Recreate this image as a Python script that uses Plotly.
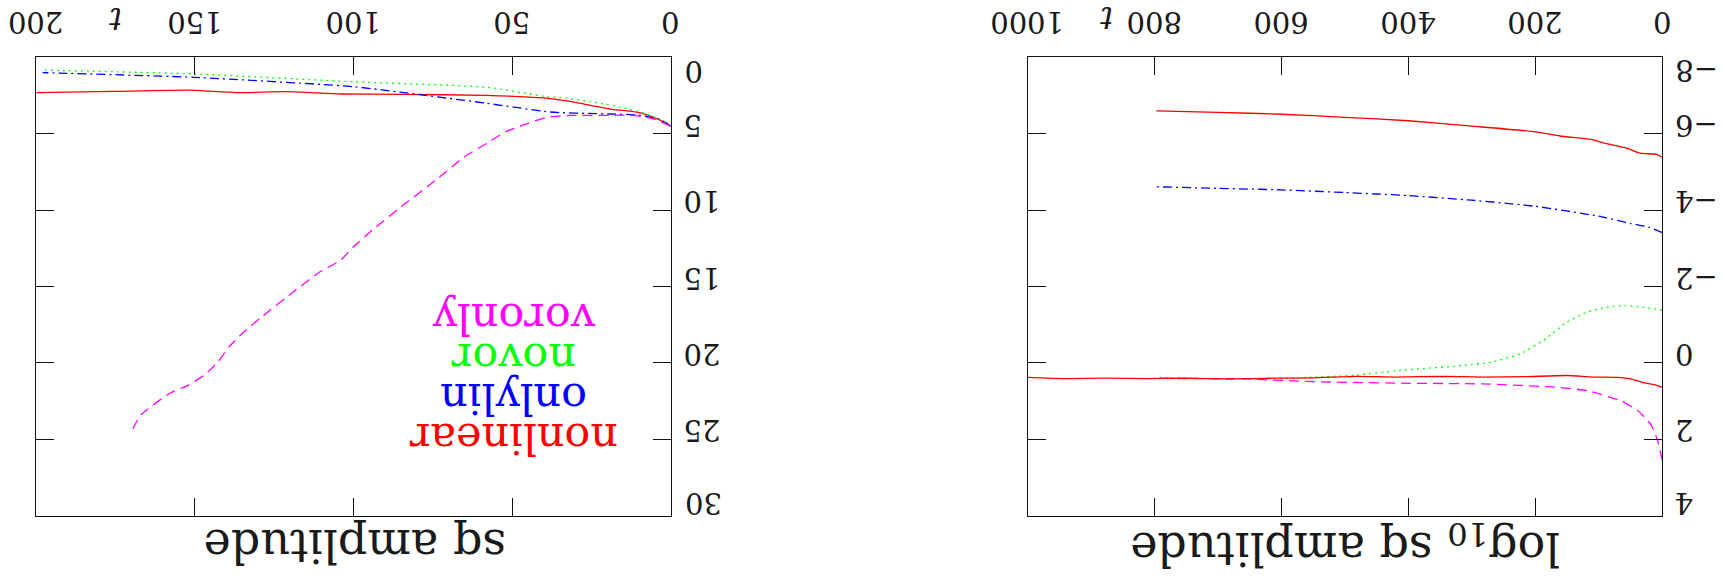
import plotly.graph_objects as go

# ---- left panel: sq amplitude vs t (0..200) ----
t_nonlinear = [0, 4, 9, 14, 18, 24, 30, 35, 40, 58, 85, 104, 121, 137, 152, 176, 200]
amp_nonlinear = [4.5, 4.05, 3.67, 3.49, 3.42, 3.2, 2.95, 2.79, 2.66, 2.49, 2.42, 2.40, 2.25, 2.31, 2.15, 2.23, 2.31]

t_onlylin = [0, 3, 10, 19, 26, 35, 39, 58, 78, 100, 150, 198]
amp_onlylin = [4.5, 4.1, 3.78, 3.71, 3.67, 3.62, 3.56, 3.01, 2.47, 1.92, 1.31, 1.0]

t_novor = [0, 3, 9, 14, 24, 35, 39, 58, 100, 150, 198]
amp_novor = [4.5, 4.1, 3.62, 3.34, 2.95, 2.62, 2.58, 1.96, 1.6, 1.09, 0.83]

t_voronly = [0, 6, 13, 19, 32, 39, 45, 52, 58, 65, 74, 85, 94, 100, 104, 111, 118,
             129, 135, 139, 143, 147, 152, 158, 167, 170]
amp_voronly = [4.5, 3.99, 3.78, 3.8, 3.8, 3.93, 4.32, 4.87, 5.63, 6.5, 8.03, 9.78, 11.3, 12.4, 13.27, 14.1, 15.2,
               17.0, 18.06, 18.9, 20.0, 20.8, 21.45, 22.0, 23.4, 24.5]

# ---- right panel: log10 sq amplitude vs t (0..1000) ----
t_log_upper = [0, 9, 35, 56, 93, 109, 161, 200, 300, 400, 500, 600, 700, 797]
log_upper = [-5.38, -5.46, -5.49, -5.62, -5.76, -5.84, -5.94, -6.05, -6.2, -6.34, -6.43, -6.51, -6.56, -6.6]

t_log_onlylin = [0, 20, 50, 100, 200, 300, 400, 500, 600, 700, 797]
log_onlylin = [-3.41, -3.55, -3.65, -3.84, -4.1, -4.26, -4.38, -4.46, -4.53, -4.57, -4.61]

t_log_novor = [0, 31, 58, 84, 117, 150, 184, 223, 270, 316, 416, 482, 560, 661, 793]
log_novor = [-1.38, -1.46, -1.50, -1.47, -1.34, -1.07, -0.63, -0.24, -0.02, 0.07, 0.20, 0.32, 0.38, 0.42, 0.38]

t_log_nonlinear = [0, 10, 31, 50, 71, 110, 150, 217, 280, 349, 420, 482, 550, 610, 681, 750, 813, 880, 946, 1000]
log_nonlinear = [0.64, 0.58, 0.51, 0.42, 0.38, 0.37, 0.33, 0.36, 0.37, 0.35, 0.37, 0.35, 0.39, 0.40, 0.42,
                 0.40, 0.41, 0.40, 0.41, 0.38]

t_log_voronly = [0, 8, 18, 38, 64, 117, 164, 283, 416, 548, 661, 740, 800]
log_voronly = [2.55, 2.0, 1.61, 1.26, 1.0, 0.73, 0.64, 0.55, 0.53, 0.49, 0.42, 0.41, 0.40]

lin_ticks = [5, 10, 15, 20, 25]
lin_ticktext = ["5", "10", "15", "20", "25"]
lin_end_ticks = [0.88, 29.12]
lin_end_text = ["0", "30"]
log_ticks = [-6, -4, -2, 0, 2]
log_ticktext = ["\u22126", "\u22124", "\u22122", "0", "2"]
log_end_ticks = [-7.65, 3.65]
log_end_text = ["\u22128", "4"]
t_ticks_left = [0, 50, 100, 150, 200]
t_ticks_right = [0, 200, 400, 600, 800, 1000]

legend_names = ["voronly", "novor", "onlylin", "nonlinear"]

RED, BLUE, GREEN, MAGENTA = "#ff0000", "#0000ff", "#00ff00", "#ff00ff"
FONT = "DejaVu Serif"
INK = "#1a1a1a"

SOLID = "solid"
DASHDOT = "9px,4px,2px,4px"
DOTTED = "2px,4px"
DASHED = "10px,6px"

W, H = 1722, 579

fig = go.Figure()

def add(x, y, color, dash, xa, ya, name):
    fig.add_trace(go.Scatter(x=x, y=y, mode="lines", name=name, xaxis=xa, yaxis=ya,
                             line=dict(color=color, width=1.3, dash=dash, shape="spline", smoothing=0.5),
                             showlegend=False, hoverinfo="skip"))

add(t_nonlinear, amp_nonlinear, RED, SOLID, "x", "y", "nonlinear")
add(t_onlylin, amp_onlylin, BLUE, DASHDOT, "x", "y", "onlylin")
add(t_novor, amp_novor, GREEN, DOTTED, "x", "y", "novor")
add(t_voronly, amp_voronly, MAGENTA, DASHED, "x", "y", "voronly")

add(t_log_upper, log_upper, RED, SOLID, "x2", "y2", "nonlinear")
add(t_log_onlylin, log_onlylin, BLUE, DASHDOT, "x2", "y2", "onlylin")
add(t_log_novor, log_novor, GREEN, DOTTED, "x2", "y2", "novor")
add(t_log_voronly, log_voronly, MAGENTA, DASHED, "x2", "y2", "voronly")
add(t_log_nonlinear, log_nonlinear, RED, SOLID, "x2", "y2", "nonlinear")

tickfont = dict(family=FONT, size=29, color=INK)
frame = dict(showline=True, linecolor="#111", linewidth=1, mirror="ticks",
             ticks="inside", ticklen=18, tickwidth=1, tickcolor="#111",
             showgrid=False, zeroline=False, tickangle=180, automargin=False,
             ticklabeloverflow="allow", tickfont=tickfont, fixedrange=True)
# y labels: placed "inside" then flipped by the 180 degree angle so they sit outside the frame
ylab = dict(ticklabelposition="inside", ticklabelstandoff=-28)

ydom = [0.1093, 0.9010]
xdom_left = [0.0210, 0.3895]
xdom_right = [0.5967, 0.9653]

fig.update_layout(
    width=W, height=H,
    margin=dict(l=0, r=0, t=0, b=0, autoexpand=False),
    paper_bgcolor="white", plot_bgcolor="white",
    xaxis=dict(domain=xdom_left, range=[200, 0], side="top", anchor="y",
               tickvals=t_ticks_left, showticklabels=False, **frame),
    yaxis=dict(domain=ydom, range=[30, 0], side="right", anchor="x",
               tickvals=lin_ticks, ticktext=lin_ticktext, **ylab, **frame),
    xaxis2=dict(domain=xdom_right, range=[1000, 0], side="top", anchor="y2",
                tickvals=t_ticks_right, showticklabels=False, **frame),
    yaxis2=dict(domain=ydom, range=[4, -8], side="right", anchor="x2",
                tickvals=log_ticks, ticktext=log_ticktext, **ylab, **frame),
)

def flipped(text, x, y, font, xref="paper", yref="paper", xanchor="center"):
    fig.add_annotation(text=text, x=x, y=y, xref=xref, yref=yref,
                       showarrow=False, textangle=180, xanchor=xanchor, yanchor="middle",
                       font=font)

def note(text, x, y, size, color=INK):
    flipped(text, x / W, 1 - y / H, dict(family=FONT, size=size, color=color))

# t tick labels, centred on their ticks above each frame
for v in t_ticks_left:
    flipped(str(v), v, 1 - 22.5 / H, tickfont, xref="x")
for v in t_ticks_right:
    flipped(str(v), v, 1 - 22.5 / H, tickfont, xref="x2")

# end labels of the amplitude axes, nudged inside the frame height
for v, s in zip(lin_end_ticks, lin_end_text):
    flipped(s, 683 / W, v, tickfont, yref="y", xanchor="left")
for v, s in zip(log_end_ticks, log_end_text):
    flipped(s, 1673 / W, v, tickfont, yref="y2", xanchor="left")

# axis titles and t labels
note("sq amplitude", 355, 546, 46)
note("log<sub>10</sub> sq amplitude", 1345, 546, 46)
note("<i>t</i>", 116, 19, 32)
note("<i>t</i>", 1107, 18, 32)

# series labels stacked inside the left panel
legend_colors = [MAGENTA, GREEN, BLUE, RED]
legend_y = [319, 359, 399, 439]
for name, c, yy in zip(legend_names, legend_colors, legend_y):
    note(name, 514, yy, 43, c)

fig.write_html("out.html")
